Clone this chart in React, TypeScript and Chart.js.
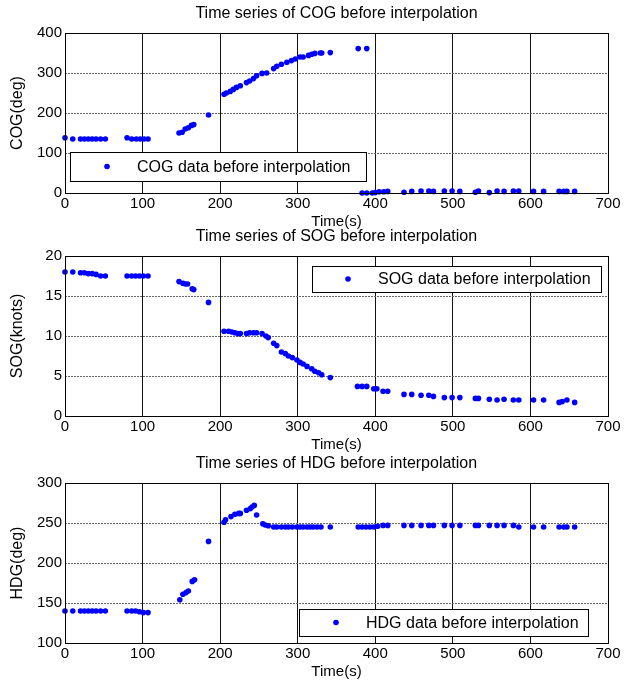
import React, { useEffect, useRef } from "react";
import { Chart, registerables } from "chart.js";

Chart.register(...registerables);

// ---------- data ----------
const timeTicks = [0, 100, 200, 300, 400, 500, 600, 700];
const cogTicks = [0, 100, 200, 300, 400];
const sogTicks = [0, 5, 10, 15, 20];
const hdgTicks = [100, 150, 200, 250, 300];

const cogTime = [
  0, 10, 20, 25, 30, 35, 40, 46, 52,
  80, 86, 92, 97, 102, 107,
  147, 151, 155, 159, 163, 166,
  185,
  205, 208, 213, 217, 221, 226, 234, 238, 243, 247, 254, 260, 269, 273, 279, 286, 292, 297, 303, 307, 314, 318, 322, 329, 331, 342,
  378, 389,
  383, 389, 396, 400, 405, 411, 416,
  437, 447, 459, 469, 475, 489, 499, 509, 529, 533, 547, 557, 566, 578, 585, 604, 617, 637, 643, 647, 657,
];
const cogValues = [
  138, 135, 135, 135, 135, 135, 135, 135, 135,
  138, 135, 135, 135, 135, 135,
  150, 152, 160, 163, 169, 171,
  195,
  247, 250, 254, 259, 264, 268, 276, 280, 286, 293, 299, 300, 311, 317, 322, 327, 331, 335, 340, 340, 344, 347, 349, 350, 350, 351,
  361, 361,
  0, 0, 0, 1, 3, 3, 4,
  2, 4, 5, 5, 4, 5, 5, 4, 2, 5, 1, 5, 4, 5, 5, 4, 4, 4, 4, 4, 4,
];

const sogTime = [
  0, 10, 20, 25, 30, 35, 40, 46, 52,
  80, 86, 91, 96, 101, 107,
  147, 152, 155, 158, 164, 166,
  185,
  205, 211, 215, 219, 223, 226, 234, 238, 243, 247, 254, 259, 262, 269, 273, 279, 284, 288, 293, 299, 303, 307, 312, 318, 322, 327, 331, 342,
  377, 383, 389, 398, 402, 410, 416,
  437, 447, 459, 469, 475, 489, 499, 509, 529, 533, 547, 557, 566, 578, 585, 604, 617, 637, 641, 647, 657,
];
const sogValues = [
  18.0, 18.0, 17.9, 17.9, 17.8, 17.8, 17.7, 17.5, 17.5,
  17.5, 17.5, 17.5, 17.5, 17.5, 17.5,
  16.8, 16.6, 16.5, 16.5, 15.9, 15.8,
  14.2,
  10.6, 10.6, 10.5, 10.4, 10.3, 10.3, 10.3, 10.4, 10.4, 10.4, 10.3, 10.0, 9.8, 9.1, 8.8, 8.0, 7.8, 7.5, 7.3, 7.0, 6.7, 6.5, 6.2, 5.9, 5.6, 5.4, 5.15, 4.8,
  3.7, 3.7, 3.7, 3.4, 3.4, 3.1, 3.1,
  2.7, 2.7, 2.6, 2.6, 2.45, 2.3, 2.3, 2.3, 2.2, 2.2, 2.1, 2.0, 2.1, 2.0, 2.0, 2.0, 2.0, 1.7, 1.8, 2.0, 1.7,
];

const hdgTime = [
  0, 10, 20, 25, 30, 35, 40, 46, 52,
  80, 86, 91, 96, 101, 107,
  148, 152, 156, 159, 164, 167,
  185,
  205, 207, 214, 219, 224, 226, 234, 239, 241, 244, 247, 255, 258, 262, 269, 273, 279, 284, 288, 293, 299, 303, 307, 312, 316, 320, 325, 330, 342,
  378, 383, 388, 393, 398, 403, 410, 416,
  437, 447, 459, 469, 475, 489, 499, 509, 529, 533, 547, 557, 566, 578, 585, 604, 617, 637, 643, 647, 657,
];
const hdgValues = [
  140, 140, 140, 140, 140, 140, 140, 140, 140,
  140, 140, 140, 139, 138, 138,
  154, 161, 163, 165, 177, 179,
  227,
  251, 254, 258, 261, 262, 262, 266, 268, 270, 272, 260, 249, 247.5, 246.5, 245, 245, 245, 245, 245, 245, 245, 245, 245, 245, 245, 245, 245, 245, 245,
  245, 245, 245, 245, 245, 246, 247, 247,
  247, 247, 247, 247, 247, 247, 247, 247, 247, 247, 247, 247, 247, 247, 245, 245, 245, 245, 245, 245, 245,
];

// ---------- style ----------
const FONT = "'Liberation Sans', Arial, Helvetica, sans-serif";
const BLUE = "#0000ff";

const frameAndLegend = {
  id: "frameAndLegend",
  afterDatasetsDraw(chart: any, _args: any, opts: any) {
    const { ctx, chartArea: a } = chart;
    ctx.save();
    ctx.strokeStyle = "#000";
    ctx.lineWidth = 1;
    ctx.strokeRect(
      Math.round(a.left) + 0.5,
      Math.round(a.top) + 0.5,
      Math.round(a.right - a.left),
      Math.round(a.bottom - a.top)
    );
    if (opts && opts.w) {
      const bx = Math.round(a.left + opts.x);
      const by = Math.round(a.top + opts.y);
      ctx.fillStyle = "#fff";
      ctx.fillRect(bx, by, opts.w, opts.h);
      ctx.strokeStyle = "#000";
      ctx.strokeRect(bx + 0.5, by + 0.5, opts.w, opts.h);
      const ds = chart.data.datasets[0];
      ctx.fillStyle = BLUE;
      ctx.beginPath();
      ctx.arc(bx + opts.dot, by + opts.h / 2, 2.8, 0, Math.PI * 2);
      ctx.fill();
      ctx.fillStyle = "#000";
      ctx.font = `16px ${FONT}`;
      ctx.textBaseline = "middle";
      ctx.textAlign = "left";
      ctx.fillText(ds.label, bx + opts.text, by + opts.h / 2 + 1);
    }
    ctx.restore();
  },
};

type PanelProps = {
  top: number;
  title: string;
  yTitle: string;
  yTicks: number[];
  times: number[];
  values: number[];
  label: string;
  legend: { x: number; y: number; w: number; h: number; dot: number; text: number };
};

const CANVAS_H = 229;

function Panel({ top, title, yTitle, yTicks, times, values, label, legend }: PanelProps) {
  const ref = useRef<HTMLCanvasElement>(null);
  useEffect(() => {
    const chart = new Chart(ref.current as HTMLCanvasElement, {
      type: "scatter",
      data: {
        datasets: [
          {
            label,
            data: times.map((t, i) => ({ x: t, y: values[i] })),
            backgroundColor: BLUE,
            borderColor: BLUE,
            borderWidth: 0,
            pointRadius: 2.8,
            clip: false as any,
          },
        ],
      },
      options: {
        responsive: false,
        animation: false,
        devicePixelRatio: 1,
        layout: { padding: { left: 0, right: 16, top: 0, bottom: 0 } },
        plugins: {
          legend: { display: false },
          tooltip: { enabled: false },
          title: {
            display: true,
            text: title,
            color: "#000",
            fullSize: false,
            font: { family: FONT, size: 16, weight: "normal", lineHeight: 1 },
            padding: { top: 6, bottom: 11 },
          },
          frameAndLegend: legend,
        } as any,
        scales: {
          x: {
            type: "linear",
            min: timeTicks[0],
            max: timeTicks[timeTicks.length - 1],
            afterBuildTicks: (s: any) => {
              s.ticks = timeTicks.map((v) => ({ value: v }));
            },
            afterFit: (s: any) => {
              s.height = CANVAS_H - 33 - 160;
            },
            ticks: { color: "#000", padding: 2, font: { family: FONT, size: 15 } },
            grid: { color: "#111", lineWidth: 1, drawTicks: false },
            border: { display: false },
            title: {
              display: true,
              text: "Time(s)",
              color: "#000",
              font: { family: FONT, size: 15, lineHeight: 1 },
              padding: { top: 0, bottom: 0 },
            },
          },
          y: {
            type: "linear",
            min: yTicks[0],
            max: yTicks[yTicks.length - 1],
            afterBuildTicks: (s: any) => {
              s.ticks = yTicks.map((v) => ({ value: v }));
            },
            afterFit: (s: any) => {
              s.width = 65;
            },
            ticks: { color: "#000", padding: 3, font: { family: FONT, size: 15 } },
            grid: { color: "#666", lineWidth: 1, drawTicks: false },
            border: { display: false, dash: [2, 1] },
            title: {
              display: true,
              text: yTitle,
              color: "#000",
              font: { family: FONT, size: 16, lineHeight: 1 },
              padding: { top: 10, bottom: 0 },
            },
          },
        },
      } as any,
      plugins: [frameAndLegend],
    });
    return () => chart.destroy();
  }, []);
  return (
    <canvas
      ref={ref}
      width={624}
      height={CANVAS_H}
      style={{ position: "absolute", left: 0, top, width: 624, height: CANVAS_H }}
    />
  );
}

export default function App() {
  return (
    <div style={{ position: "absolute", left: 0, top: 0, width: 624, height: 683, background: "#fff" }}>
      <Panel
        top={0}
        title="Time series of COG before interpolation"
        yTitle="COG(deg)"
        yTicks={cogTicks}
        times={cogTime}
        values={cogValues}
        label="COG data before interpolation"
        legend={{ x: 5, y: 119, w: 296, h: 29, dot: 37, text: 67 }}
      />
      <Panel
        top={223}
        title="Time series of SOG before interpolation"
        yTitle="SOG(knots)"
        yTicks={sogTicks}
        times={sogTime}
        values={sogValues}
        label="SOG data before interpolation"
        legend={{ x: 247, y: 10, w: 289, h: 26, dot: 36, text: 66 }}
      />
      <Panel
        top={450}
        title="Time series of HDG before interpolation"
        yTitle="HDG(deg)"
        yTicks={hdgTicks}
        times={hdgTime}
        values={hdgValues}
        label="HDG data before interpolation"
        legend={{ x: 234, y: 126, w: 289, h: 27, dot: 37, text: 67 }}
      />
    </div>
  );
}
